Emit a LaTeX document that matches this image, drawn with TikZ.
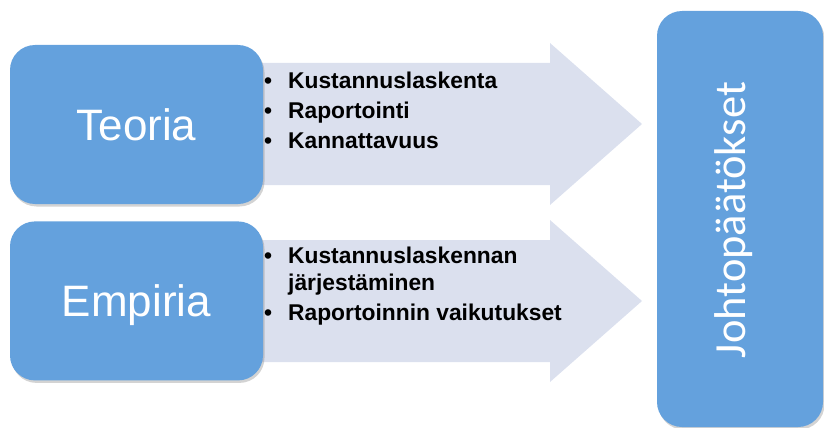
\documentclass[tikz,border=0pt]{standalone}
\usepackage{fontspec}
\setmainfont{Liberation Sans}
\newfontfamily\calibrifont{Carlito}
\usetikzlibrary{positioning}
\usetikzlibrary{shadows}
\definecolor{boxblue}{HTML}{64A1DD}
\definecolor{arrowgray}{HTML}{DBE0EE}

\begin{document}
\begin{tikzpicture}[x=1pt,y=-1pt,
    bluebox/.style={rectangle, rounded corners=25pt, fill=boxblue, text=white, text depth=0pt, inner sep=0pt,
      drop shadow={opacity=0.35, shadow xshift=1.5pt, shadow yshift=-2.5pt}},
    sidebox/.style={bluebox, minimum width=253pt, minimum height=159pt, font=\fontsize{44}{50}\selectfont},
    listnode/.style={anchor=base west, inner sep=0pt}]
    \useasboundingbox (0,0) rectangle (824,428);
    %Arrows
    \fill[arrowgray] (240,63) -- (550,63) -- (550,43) -- (642,124) -- (550,205) -- (550,185) -- (240,185) -- cycle;
    \fill[arrowgray] (240,240) -- (550,240) -- (550,220) -- (642,301) -- (550,382) -- (550,362) -- (240,362) -- cycle;
    %Nodes
    \node[sidebox]   (teoria)   at (136.5,124.5)        {Teoria};
    \node[sidebox]   (empiria)  [below=17pt of teoria]  {Empiria};
    \node[bluebox, minimum width=166pt, minimum height=416pt] (johto) at (740,219) {};
    \node[rotate=90, anchor=base, inner sep=0pt, text=white, font=\calibrifont\fontsize{44.5}{50}\selectfont]
        (johtoText) at (745,220) {Johtopäätökset};
    %Lists
    \node[listnode, font=\bfseries\fontsize{22.8}{30}\selectfont] (teoriaList) at (264,88.3)
        {\begin{tabular}[t]{@{}l@{\hspace{16pt}}l@{}}
            \textbullet & Kustannuslaskenta\\
            \textbullet & Raportointi\\
            \textbullet & Kannattavuus
         \end{tabular}};
    \node[listnode, font=\bfseries\fontsize{22.8}{27}\selectfont] (empiriaList) at (264,263)
        {\begin{tabular}[t]{@{}l@{\hspace{16pt}}l@{}}
            \textbullet & Kustannuslaskennan\\
                        & järjestäminen\\[3pt]
            \textbullet & Raportoinnin vaikutukset
         \end{tabular}};
\end{tikzpicture}
\end{document}
